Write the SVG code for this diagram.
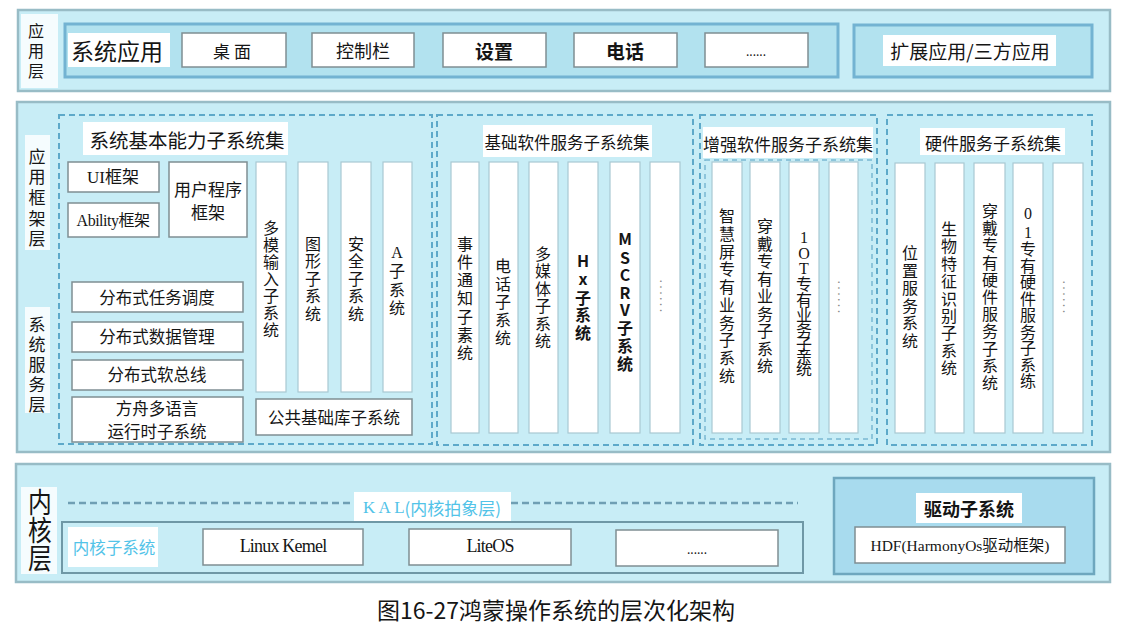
<svg xmlns="http://www.w3.org/2000/svg" width="1126" height="631" viewBox="0 0 1126 631">
<style>
.layer{fill:#c8edf6;stroke:#98bcc6;stroke-width:2.5}
.inner{fill:#b2e2ef;stroke:#73b3d2;stroke-width:3}
.box{fill:#ffffff;stroke:#7f8e93;stroke-width:1.5}
.bar{fill:#ffffff;stroke:#a9c9d2;stroke-width:1.2}
.wb{fill:#ffffff;stroke:none}
.lb{fill:#f5fcfe;stroke:none}
.dash{fill:none;stroke:#5ea9c9;stroke-width:2;stroke-dasharray:6 4}
.dash2{fill:none;stroke:#7ab8d2;stroke-width:1.5;stroke-dasharray:5 4}
.kal{fill:none;stroke:#6f9fb4;stroke-width:2.5;stroke-dasharray:7 4}
text{font-family:"Noto Sans CJK SC","Noto Sans",sans-serif;fill:#151515;dominant-baseline:central}
.c{text-anchor:middle}
.s{font-family:"Liberation Serif","Noto Sans CJK SC",serif}
.v{font-size:16px;text-anchor:middle}
.vb{font-size:16px;text-anchor:middle;font-weight:bold}
.dots{fill:#8a8a8a;font-size:12px;text-anchor:middle;writing-mode:tb;letter-spacing:2.5px}
.cy{fill:#52c3e8}
</style>

<g id="layer-app">
<rect class="layer" x="18" y="10" width="1092" height="81"/>
<rect class="lb" x="21" y="14" width="37" height="74"/>
<text class="c" x="36" y="30" font-size="16">应</text>
<text class="c" x="36" y="50" font-size="16">用</text>
<text class="c" x="36" y="70" font-size="16">层</text>
</g>

<g id="system-apps">
<rect class="inner" x="65" y="24" width="773" height="53"/>
<rect class="wb" x="68" y="33" width="102" height="34"/>
<text class="c" x="117" y="50" font-size="23">系统应用</text>
</g>
<g id="app-desktop"><rect class="box" x="182" y="33" width="104" height="34"/><text class="c" x="234" y="50" font-size="17" letter-spacing="4">桌面</text></g>
<g id="app-control"><rect class="box" x="312" y="33" width="102" height="34"/><text class="c" x="363" y="50" font-size="18">控制栏</text></g>
<g id="app-settings"><rect class="box" x="443" y="33" width="103" height="34"/><text class="c" x="494" y="50" font-size="19" font-weight="bold">设置</text></g>
<g id="app-phone"><rect class="box" x="574" y="33" width="103" height="34"/><text class="c" x="625" y="50" font-size="19" font-weight="bold">电话</text></g>
<g id="app-more"><rect class="box" x="705" y="33" width="103" height="34"/><text class="c" x="756" y="50" font-size="12" fill="#888">......</text></g>
<g id="app-ext">
<rect class="inner" x="854" y="25" width="238" height="52"/>
<rect class="wb" x="883" y="35" width="173" height="31"/>
<text class="c" x="970" y="50" font-size="19">扩展应用/三方应用</text>
</g>

<g id="layer-framework-service">
<rect class="layer" x="17" y="102" width="1093" height="350"/>
<rect class="lb" x="25" y="135" width="25" height="115"/>
<text class="c" x="37" y="155" font-size="17">应</text>
<text class="c" x="37" y="175" font-size="17">用</text>
<text class="c" x="37" y="196" font-size="17">框</text>
<text class="c" x="37" y="217" font-size="17">架</text>
<text class="c" x="37" y="237" font-size="17">层</text>
<rect class="lb" x="25" y="307" width="25" height="106"/>
<text class="c" x="37" y="323" font-size="17">系</text>
<text class="c" x="37" y="343" font-size="17">统</text>
<text class="c" x="37" y="363" font-size="17">服</text>
<text class="c" x="37" y="383" font-size="17">务</text>
<text class="c" x="37" y="403" font-size="17">层</text>
</g>

<g id="set-basic">
<rect class="dash" x="59" y="115" width="373" height="329"/>
<rect class="wb" x="83" y="122" width="205" height="33"/>
<text class="c" x="187" y="139" font-size="19.5">系统基本能力子系统集</text>
</g>
<g id="ui-framework"><rect class="box" x="68" y="162" width="91" height="30"/><text class="c s" x="113" y="177" font-size="17">UI框架</text></g>
<g id="ability-framework"><rect class="box" x="68" y="203" width="91" height="34"/><text class="c s" x="113" y="220" font-size="16" letter-spacing="-0.5">Ability框架</text></g>
<g id="user-framework"><rect class="box" x="169" y="162" width="78" height="75"/><text class="c" x="208" y="188" font-size="17">用户程序</text><text class="c" x="208" y="211" font-size="17">框架</text></g>
<g id="dist-task"><rect class="box" x="72" y="282" width="171" height="30"/><text class="c" x="157" y="297" font-size="16.5">分布式任务调度</text></g>
<g id="dist-data"><rect class="box" x="72" y="322" width="171" height="30"/><text class="c" x="157" y="336" font-size="16.5">分布式数据管理</text></g>
<g id="dist-bus"><rect class="box" x="72" y="360" width="171" height="30"/><text class="c" x="157" y="374" font-size="16.5">分布式软总线</text></g>
<g id="ark-runtime"><rect class="box" x="72" y="397" width="171" height="45"/><text class="c" x="157" y="408" font-size="16.5">方舟多语言</text><text class="c" x="157" y="431" font-size="16.5">运行时子系统</text></g>
<g id="common-lib"><rect class="box" x="256" y="399" width="156" height="36"/><text class="c" x="334" y="417" font-size="16.5">公共基础库子系统</text></g>
<g id="multimodal-input"><rect class="bar" x="256" y="162" width="30" height="230"/>
<text class="v" x="271"><tspan x="271" y="227">多</tspan><tspan x="271" y="244">模</tspan><tspan x="271" y="261">输</tspan><tspan x="271" y="278">入</tspan><tspan x="271" y="295">子</tspan><tspan x="271" y="312">系</tspan><tspan x="271" y="329">统</tspan></text></g>
<g id="graphics"><rect class="bar" x="298" y="162" width="30" height="230"/>
<text class="v" x="313"><tspan x="313" y="243">图</tspan><tspan x="313" y="260">形</tspan><tspan x="313" y="278">子</tspan><tspan x="313" y="295">系</tspan><tspan x="313" y="313">统</tspan></text></g>
<g id="security"><rect class="bar" x="341" y="162" width="30" height="230"/>
<text class="v" x="356"><tspan x="356" y="243">安</tspan><tspan x="356" y="260">全</tspan><tspan x="356" y="278">子</tspan><tspan x="356" y="295">系</tspan><tspan x="356" y="313">统</tspan></text></g>
<g id="a-subsystem"><rect class="bar" x="383" y="162" width="29" height="230"/>
<text class="v" x="397"><tspan x="397" y="252" class="s">A</tspan><tspan x="397" y="270">子</tspan><tspan x="397" y="289">系</tspan><tspan x="397" y="307">统</tspan></text></g>

<g id="set-software">
<rect class="dash" x="437" y="115" width="256" height="330"/>
<rect class="wb" x="483" y="125" width="169" height="32"/>
<text class="c" x="567" y="142" font-size="16.5">基础软件服务子系统集</text>
</g>
<g id="event-notify"><rect class="bar" x="451" y="162" width="28" height="271"/>
<text class="v" x="465"><tspan x="465" y="243">事</tspan><tspan x="465" y="261">件</tspan><tspan x="465" y="279">通</tspan><tspan x="465" y="297">知</tspan><tspan x="465" y="316">子</tspan><tspan x="465" y="334">素</tspan><tspan x="465" y="352">统</tspan></text></g>
<g id="telephony"><rect class="bar" x="489" y="162" width="29" height="271"/>
<text class="v" x="503"><tspan x="503" y="265">电</tspan><tspan x="503" y="283">话</tspan><tspan x="503" y="301">子</tspan><tspan x="503" y="319">系</tspan><tspan x="503" y="337">统</tspan></text></g>
<g id="multimedia"><rect class="bar" x="529" y="162" width="29" height="271"/>
<text class="v" x="543"><tspan x="543" y="253">多</tspan><tspan x="543" y="270">媒</tspan><tspan x="543" y="288">体</tspan><tspan x="543" y="305">子</tspan><tspan x="543" y="323">系</tspan><tspan x="543" y="340">统</tspan></text></g>
<g id="hx"><rect class="bar" x="568" y="162" width="30" height="271"/>
<text class="vb" x="583"><tspan x="583" y="260">H</tspan><tspan x="583" y="278">x</tspan><tspan x="583" y="297">子</tspan><tspan x="583" y="314">系</tspan><tspan x="583" y="332">统</tspan></text></g>
<g id="mscrv"><rect class="bar" x="610" y="162" width="30" height="271"/>
<text class="vb" x="625"><tspan x="625" y="238">M</tspan><tspan x="625" y="257">S</tspan><tspan x="625" y="274">C</tspan><tspan x="625" y="292">R</tspan><tspan x="625" y="309">V</tspan><tspan x="625" y="327">子</tspan><tspan x="625" y="345">系</tspan><tspan x="625" y="363">统</tspan></text></g>
<g id="sw-more"><rect class="bar" x="650" y="162" width="30" height="271"/>
<text class="dots" x="665" y="297">......</text></g>

<g id="set-enhanced">
<rect class="dash" x="700" y="115" width="177" height="330"/>
<rect class="dash2" x="705" y="160" width="167" height="279"/>
<rect class="wb" x="703" y="127" width="170" height="31"/>
<text class="c" x="788" y="143" font-size="17">增强软件服务子系统集</text>
</g>
<g id="smart-screen"><rect class="bar" x="712" y="162" width="30" height="271"/>
<text class="v" x="727"><tspan x="727" y="215">智</tspan><tspan x="727" y="233">慧</tspan><tspan x="727" y="251">屏</tspan><tspan x="727" y="268">专</tspan><tspan x="727" y="286">有</tspan><tspan x="727" y="304">业</tspan><tspan x="727" y="322">务</tspan><tspan x="727" y="339">子</tspan><tspan x="727" y="357">系</tspan><tspan x="727" y="375">统</tspan></text></g>
<g id="wearable-sw"><rect class="bar" x="750" y="162" width="30" height="271"/>
<text class="v" x="765"><tspan x="765" y="225">穿</tspan><tspan x="765" y="243">戴</tspan><tspan x="765" y="260">专</tspan><tspan x="765" y="278">有</tspan><tspan x="765" y="295">业</tspan><tspan x="765" y="313">务</tspan><tspan x="765" y="330">子</tspan><tspan x="765" y="348">系</tspan><tspan x="765" y="365">统</tspan></text></g>
<g id="iot-sw"><rect class="bar" x="789" y="162" width="30" height="271"/>
<text class="v" x="804"><tspan x="804" y="237" class="s">1</tspan><tspan x="804" y="253" class="s">O</tspan><tspan x="804" y="268" class="s">T</tspan><tspan x="804" y="283">专</tspan><tspan x="804" y="299">有</tspan><tspan x="804" y="314">业</tspan><tspan x="804" y="329">务</tspan><tspan x="804" y="343">子</tspan><tspan x="804" y="355">亲</tspan><tspan x="804" y="368">统</tspan></text></g>
<g id="enh-more"><rect class="bar" x="829" y="162" width="29" height="271"/>
<text class="dots" x="843" y="298">......</text></g>

<g id="set-hardware">
<rect class="dash" x="887" y="115" width="205" height="330"/>
<rect class="wb" x="920" y="128" width="145" height="27"/>
<text class="c" x="993" y="142" font-size="17">硬件服务子系统集</text>
</g>
<g id="location"><rect class="bar" x="895" y="163" width="30" height="270"/>
<text class="v" x="910"><tspan x="910" y="252">位</tspan><tspan x="910" y="270">置</tspan><tspan x="910" y="287">服</tspan><tspan x="910" y="305">务</tspan><tspan x="910" y="322">系</tspan><tspan x="910" y="340">统</tspan></text></g>
<g id="biometric"><rect class="bar" x="935" y="163" width="29" height="270"/>
<text class="v" x="949"><tspan x="949" y="228">生</tspan><tspan x="949" y="245">物</tspan><tspan x="949" y="263">特</tspan><tspan x="949" y="280">征</tspan><tspan x="949" y="298">识</tspan><tspan x="949" y="315">别</tspan><tspan x="949" y="332">子</tspan><tspan x="949" y="350">系</tspan><tspan x="949" y="367">统</tspan></text></g>
<g id="wearable-hw"><rect class="bar" x="974" y="163" width="31" height="270"/>
<text class="v" x="990"><tspan x="990" y="210">穿</tspan><tspan x="990" y="227">戴</tspan><tspan x="990" y="244">专</tspan><tspan x="990" y="262">有</tspan><tspan x="990" y="279">硬</tspan><tspan x="990" y="296">件</tspan><tspan x="990" y="313">服</tspan><tspan x="990" y="330">务</tspan><tspan x="990" y="348">子</tspan><tspan x="990" y="365">系</tspan><tspan x="990" y="382">统</tspan></text></g>
<g id="o1-hw"><rect class="bar" x="1013" y="163" width="30" height="270"/>
<text class="v" x="1028"><tspan x="1028" y="213" class="s">0</tspan><tspan x="1028" y="232" class="s">1</tspan><tspan x="1028" y="248">专</tspan><tspan x="1028" y="265">有</tspan><tspan x="1028" y="281">硬</tspan><tspan x="1028" y="298">件</tspan><tspan x="1028" y="314">服</tspan><tspan x="1028" y="331">务</tspan><tspan x="1028" y="347">子</tspan><tspan x="1028" y="364">系</tspan><tspan x="1028" y="380">练</tspan></text></g>
<g id="hw-more"><rect class="bar" x="1053" y="163" width="30" height="270"/>
<text class="dots" x="1068" y="298">......</text></g>

<g id="layer-kernel">
<rect class="layer" x="16" y="464" width="1094" height="118"/>
<rect class="lb" x="21" y="487" width="36" height="87"/>
<g transform="translate(40 0) scale(0.85 1)">
<text class="c" x="0" y="501" font-size="28">内</text>
<text class="c" x="0" y="529" font-size="28">核</text>
<text class="c" x="0" y="557" font-size="28">层</text>
</g>
</g>
<g id="connectors">
<line class="kal" x1="68" y1="503" x2="354" y2="503"/>
<line class="kal" x1="511" y1="503" x2="798" y2="503"/>
</g>
<g id="kal">
<rect class="wb" x="354" y="492" width="157" height="30"/>
<text class="c cy" x="432" y="507" font-size="17"><tspan class="s">K A L</tspan>(内核拍象层)</text>
</g>
<g id="kernel-subsystem">
<rect fill="none" stroke="#6f98a6" stroke-width="2" x="62" y="522" width="741" height="51"/>
<rect class="wb" x="68" y="527" width="90" height="40"/>
<text class="c cy" x="114" y="547" font-size="16.5">内核子系统</text>
</g>
<g id="linux-kernel"><rect class="box" x="203" y="529" width="160" height="36"/><text class="c s" x="283" y="546" font-size="18" letter-spacing="-0.8">Linux Kemel</text></g>
<g id="liteos"><rect class="box" x="409" y="529" width="162" height="36"/><text class="c s" x="490" y="546" font-size="18" letter-spacing="-0.8">LiteOS</text></g>
<g id="kernel-more"><rect class="box" x="616" y="530" width="162" height="36"/><text class="c" x="697" y="548" font-size="12" fill="#888">......</text></g>
<g id="driver-subsystem">
<rect fill="#a8dbee" stroke="#6ea7be" stroke-width="2.5" x="834" y="478" width="260" height="96"/>
<rect class="wb" x="916" y="493" width="106" height="30"/>
<text class="c" x="969" y="508" font-size="18" font-weight="bold">驱动子系统</text>
</g>
<g id="hdf"><rect class="box" x="855" y="527" width="210" height="36"/><text class="c s" x="960" y="545" font-size="15.5">HDF(HarmonyOs驱动框架)</text></g>

<text class="c" x="556" y="609" font-size="23">图16-27鸿蒙操作系统的层次化架构</text>
</svg>
